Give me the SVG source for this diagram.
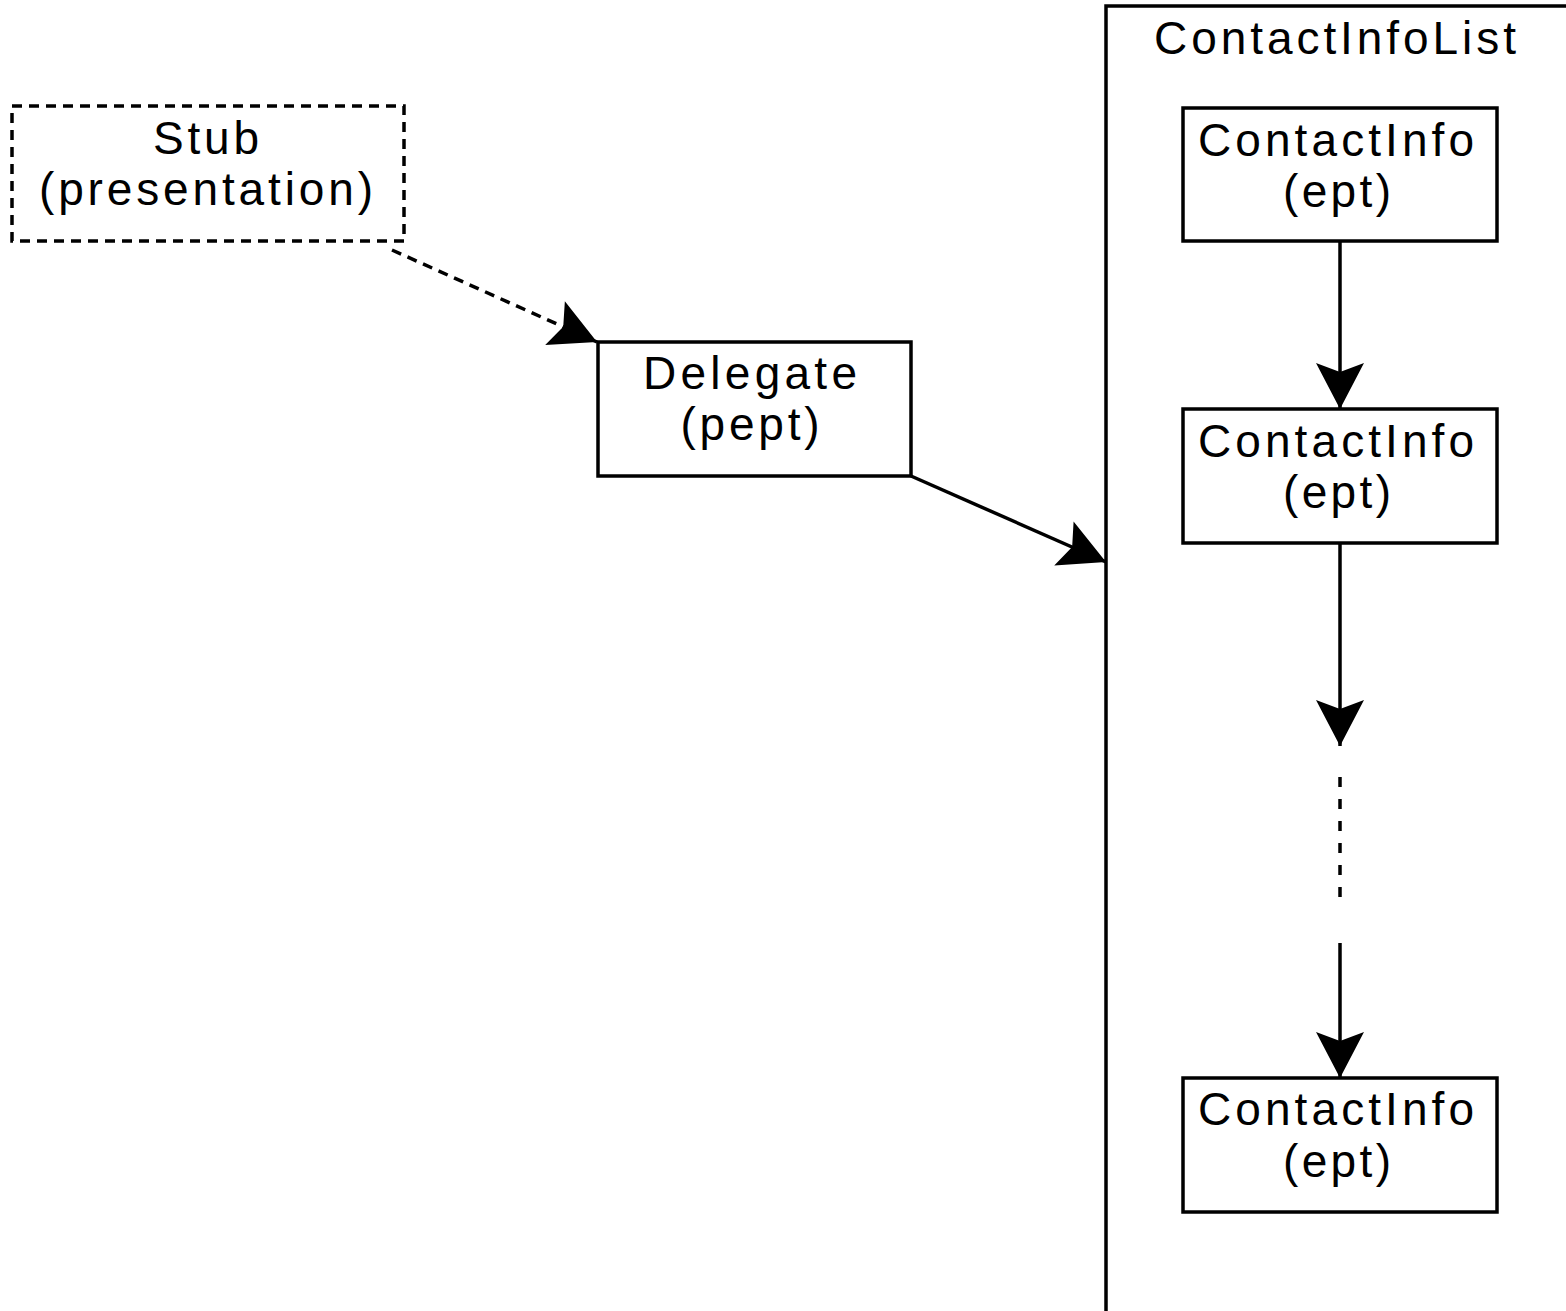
<svg xmlns="http://www.w3.org/2000/svg" width="1566" height="1311" viewBox="0 0 1566 1311">
  <style>
    .box { fill: #ffffff; stroke: #000000; stroke-width: 3.5; }
    .dashed { stroke-dasharray: 10 7; }
    .lbl { font-family: "Liberation Sans", Arial, sans-serif; font-size: 46px; fill: #000000; text-anchor: middle; }
    .edge { fill: none; stroke: #000000; stroke-width: 3.5; }
  </style>
  <defs>
    <marker id="arrow" markerUnits="userSpaceOnUse" markerWidth="52" markerHeight="52" refX="48" refY="25" orient="auto" viewBox="0 0 52 52">
      <path d="M48,25 L2,1 L11,25 L2,49 Z" fill="#000000"/>
    </marker>
  </defs>
  <rect width="1566" height="1311" fill="#ffffff"/>

  <!-- container: only its left and top edges fall inside the canvas -->
  <g id="contactInfoList">
    <path class="edge" d="M1106,1311 L1106,6 L1566,6"/>
    <text class="lbl" x="1335" y="54" textLength="362" lengthAdjust="spacing">ContactInfoList</text>
  </g>

  <g id="stub">
    <rect class="box dashed" x="12" y="106" width="392" height="135"/>
    <text class="lbl" x="206" y="154" textLength="106" lengthAdjust="spacing">Stub</text>
    <text class="lbl" x="206" y="205" textLength="334" lengthAdjust="spacing">(presentation)</text>
  </g>

  <g id="delegate">
    <rect class="box" x="598" y="342" width="313" height="134"/>
    <text class="lbl" x="750" y="389" textLength="214" lengthAdjust="spacing">Delegate</text>
    <text class="lbl" x="750" y="440" textLength="139" lengthAdjust="spacing">(pept)</text>
  </g>

  <g id="contactInfo1">
    <rect class="box" x="1183" y="108" width="314" height="133"/>
    <text class="lbl" x="1336" y="156" textLength="276" lengthAdjust="spacing">ContactInfo</text>
    <text class="lbl" x="1337" y="207" textLength="108" lengthAdjust="spacing">(ept)</text>
  </g>

  <g id="contactInfo2">
    <rect class="box" x="1183" y="409" width="314" height="134"/>
    <text class="lbl" x="1336" y="457" textLength="276" lengthAdjust="spacing">ContactInfo</text>
    <text class="lbl" x="1337" y="508" textLength="108" lengthAdjust="spacing">(ept)</text>
  </g>

  <g id="contactInfo3">
    <rect class="box" x="1183" y="1078" width="314" height="134"/>
    <text class="lbl" x="1336" y="1125" textLength="276" lengthAdjust="spacing">ContactInfo</text>
    <text class="lbl" x="1337" y="1177" textLength="108" lengthAdjust="spacing">(ept)</text>
  </g>

  <g id="connectors">
    <path class="edge dashed" d="M392,250 L597,342" marker-end="url(#arrow)"/>
    <path class="edge" d="M911,476 L1106,562" marker-end="url(#arrow)"/>
    <path class="edge" d="M1340,241 L1340,409" marker-end="url(#arrow)"/>
    <path class="edge" d="M1340,543 L1340,746" marker-end="url(#arrow)"/>
    <path class="edge" d="M1340,777 L1340,905" style="stroke-dasharray: 10 12"/>
    <path class="edge" d="M1340,943 L1340,1078" marker-end="url(#arrow)"/>
  </g>
</svg>
